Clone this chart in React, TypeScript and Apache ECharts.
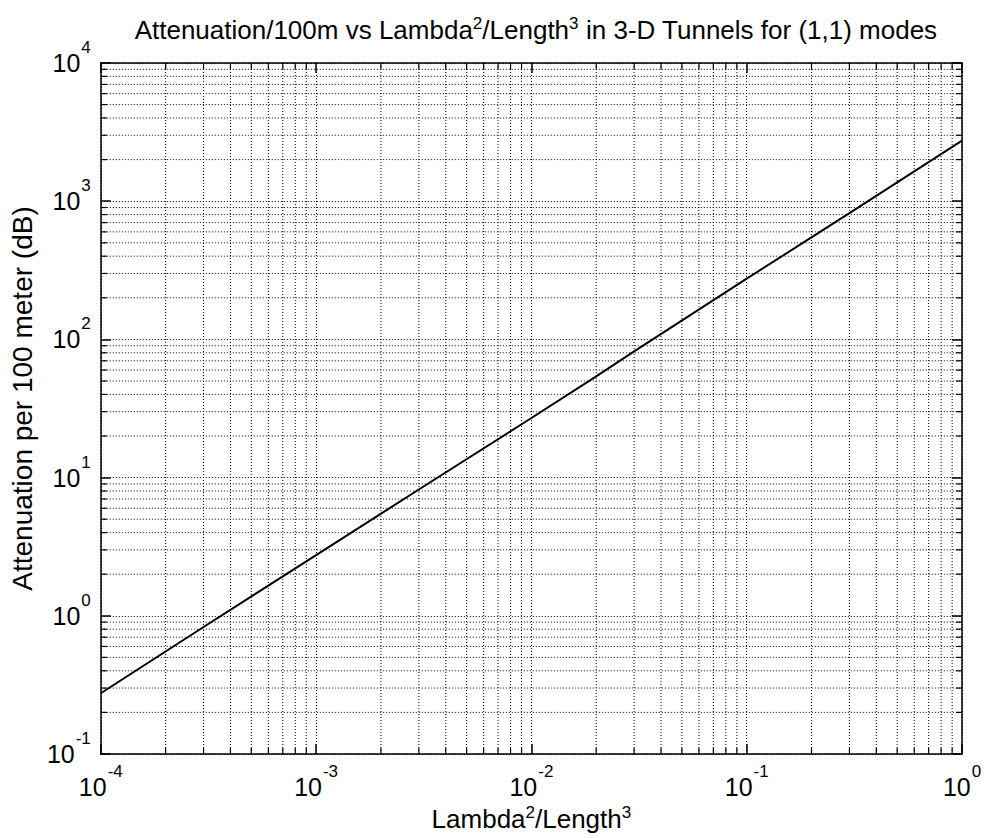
import React, { useEffect, useRef } from "react";
import * as echarts from "echarts";

// Line: Lambda^2/Length^3 vs attenuation per 100 m (dB)
const xValues = [1e-4, 3e-4, 1e-3, 3e-3, 1e-2, 2e-2, 3e-2, 1e-1, 3e-1, 1];
const yValues = [0.275, 0.83, 2.75, 8.2, 27, 54, 82, 275, 820, 2740];

// Axis extents (decades)
const xDecades = [-4, -3, -2, -1, 0];
const yDecades = [-1, 0, 1, 2, 3, 4];
const minorMultipliers = [2, 3, 4, 5, 6, 7, 8, 9];

const titleText =
  "Attenuation/100m vs Lambda{sup|2}/Length{sup|3} in 3-D Tunnels for (1,1) modes";
const xName = "Lambda{sup|2}/Length{sup|3}";
const yName = "Attenuation per 100 meter (dB)";

const FONT = "'Liberation Sans', Arial, Helvetica, sans-serif";

function minorValues(decades: number[]) {
  const out: number[] = [];
  for (let i = 0; i < decades.length - 1; i++) {
    for (const m of minorMultipliers) out.push(m * Math.pow(10, decades[i]));
  }
  return out;
}

const supRich = {
  b: { fontSize: 25, lineHeight: 48, fontFamily: FONT, color: "#000", verticalAlign: "middle" },
  e: {
    fontSize: 17,
    lineHeight: 17,
    fontFamily: FONT,
    color: "#000",
    verticalAlign: "top",
    padding: [0, 0, 0, 1],
  },
};

const nameSup = {
  sup: {
    fontFamily: FONT,
    fontSize: 17,
    color: "#000",
    verticalAlign: "bottom",
    padding: [0, 0, 12, 0],
  },
};

const powLabel = (v: number) => {
  const exp = Math.round(Math.log10(v));
  return `{b|10}{e|${exp}}`;
};

const DOT = [1, 2];
const MINOR_TICK = 6;

export default function App() {
  const ref = useRef<HTMLDivElement>(null);
  useEffect(() => {
    document.body.style.margin = "0";
    if (!ref.current) return;
    const chart = echarts.init(ref.current, undefined, { renderer: "svg" });
    const xMin = Math.pow(10, xDecades[0]);
    const xMax = Math.pow(10, xDecades[xDecades.length - 1]);
    const yMin = Math.pow(10, yDecades[0]);
    const yMax = Math.pow(10, yDecades[yDecades.length - 1]);
    const gridLine = { show: true, lineStyle: { color: "#000", width: 1, type: DOT as any } };
    const axisLine = { show: true, lineStyle: { color: "#000", width: 1.5 } };
    const tick = { show: true, inside: true, length: 10, lineStyle: { color: "#000", width: 1.5 } };
    const dotStyle = { stroke: "#000", lineWidth: 1, lineDash: DOT };
    const tickStyle = { stroke: "#000", lineWidth: 1.2 };

    chart.setOption({
      animation: false,
      backgroundColor: "#fff",
      title: {
        text: titleText,
        left: 531,
        top: 10,
        textAlign: "center",
        textStyle: {
          fontFamily: FONT,
          fontSize: 26,
          fontWeight: "normal",
          color: "#000",
          rich: nameSup,
        },
      },
      grid: { left: 96, right: 23, top: 63, bottom: 84, containLabel: false },
      xAxis: [
        {
          type: "log",
          logBase: 10,
          min: xMin,
          max: xMax,
          name: xName,
          nameLocation: "middle",
          nameGap: 47,
          nameTextStyle: { fontFamily: FONT, fontSize: 26, color: "#000", rich: nameSup },
          axisLine,
          axisTick: tick,
          splitLine: gridLine,
          axisLabel: { formatter: powLabel, rich: supRich, margin: 9, color: "#000" },
        },
        {
          type: "log",
          logBase: 10,
          min: xMin,
          max: xMax,
          position: "top",
          axisLine,
          axisTick: tick,
          axisLabel: { show: false },
          splitLine: { show: false },
        },
      ],
      yAxis: [
        {
          type: "log",
          logBase: 10,
          min: yMin,
          max: yMax,
          name: yName,
          nameLocation: "middle",
          nameGap: 60,
          nameTextStyle: { fontFamily: FONT, fontSize: 28, color: "#000", padding: [0, 0, 0, 20] },
          axisLine,
          axisTick: tick,
          splitLine: gridLine,
          axisLabel: { formatter: powLabel, rich: supRich, margin: 10, color: "#000" },
        },
        {
          type: "log",
          logBase: 10,
          min: yMin,
          max: yMax,
          position: "right",
          axisLine,
          axisTick: tick,
          axisLabel: { show: false },
          splitLine: { show: false },
        },
      ],
      series: [
        {
          type: "custom",
          xAxisIndex: 0,
          yAxisIndex: 0,
          silent: true,
          z: 1,
          data: minorValues(xDecades).map((v) => [v, yMin]),
          encode: { x: 0, y: 1 },
          renderItem: (_p: any, api: any) => {
            const v = api.value(0);
            const top = api.coord([v, yMax]);
            const bot = api.coord([v, yMin]);
            return {
              type: "group",
              children: [
                { type: "line", shape: { x1: top[0], y1: top[1], x2: bot[0], y2: bot[1] }, style: dotStyle },
                { type: "line", shape: { x1: bot[0], y1: bot[1], x2: bot[0], y2: bot[1] - MINOR_TICK }, style: tickStyle },
                { type: "line", shape: { x1: top[0], y1: top[1], x2: top[0], y2: top[1] + MINOR_TICK }, style: tickStyle },
              ],
            };
          },
        },
        {
          type: "custom",
          xAxisIndex: 0,
          yAxisIndex: 0,
          silent: true,
          z: 1,
          data: minorValues(yDecades).map((v) => [xMin, v]),
          encode: { x: 0, y: 1 },
          renderItem: (_p: any, api: any) => {
            const v = api.value(1);
            const l = api.coord([xMin, v]);
            const r = api.coord([xMax, v]);
            return {
              type: "group",
              children: [
                { type: "line", shape: { x1: l[0], y1: l[1], x2: r[0], y2: r[1] }, style: dotStyle },
                { type: "line", shape: { x1: l[0], y1: l[1], x2: l[0] + MINOR_TICK, y2: l[1] }, style: tickStyle },
                { type: "line", shape: { x1: r[0], y1: r[1], x2: r[0] - MINOR_TICK, y2: r[1] }, style: tickStyle },
              ],
            };
          },
        },
        {
          type: "line",
          xAxisIndex: 0,
          yAxisIndex: 0,
          data: xValues.map((x, i) => [x, yValues[i]]),
          showSymbol: false,
          lineStyle: { color: "#000", width: 2 },
          z: 5,
        },
      ],
    });
    return () => chart.dispose();
  }, []);
  return <div ref={ref} style={{ width: 985, height: 838 }} />;
}
